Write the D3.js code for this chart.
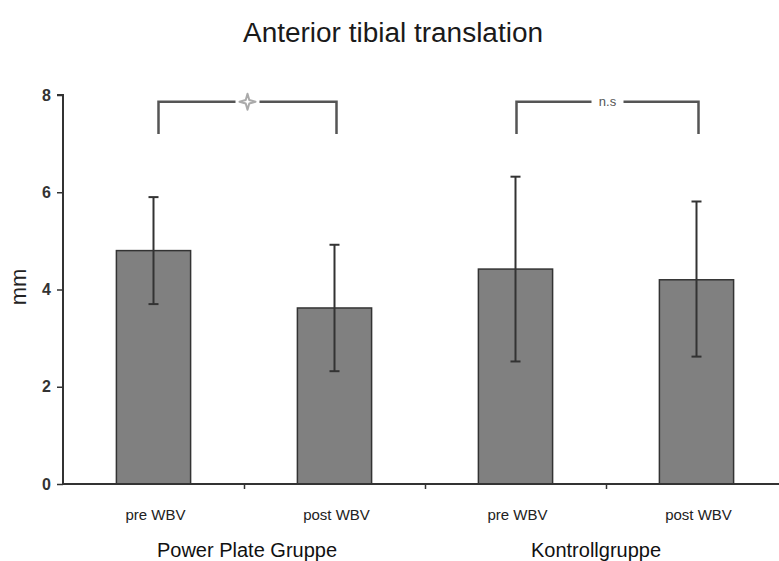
<!DOCTYPE html>
<html>
<head>
<meta charset="utf-8">
<script src="https://cdn.jsdelivr.net/npm/d3@7"></script>
<style>
  html, body { margin: 0; padding: 0; background: #ffffff; }
  svg { display: block; }
  text { font-family: "Liberation Sans", Arial, sans-serif; }
</style>
</head>
<body>
<div id="chart"></div>
<script>
// ---- data ----
const categories = ["pre WBV", "post WBV", "pre WBV", "post WBV"];
const means = [4.8, 3.62, 4.42, 4.2];
const errLow = [3.7, 2.32, 2.52, 2.62];
const errHigh = [5.9, 4.92, 6.32, 5.81];
const groups = ["Power Plate Gruppe", "Kontrollgruppe"];
const groupMembers = [[0, 1], [2, 3]];
const brackets = [
  { from: 0, to: 1, label: "" },
  { from: 2, to: 3, label: "n.s" }
];
const bracketTop = 7.86;
const bracketLeg = 7.2;
const yTicks = [0, 2, 4, 6, 8];
const title = "Anterior tibial translation";
const yLabel = "mm";

// ---- layout ----
const W = 779, H = 561;
const x0 = 63, x1 = 787, yBottom = 484, yTop = 95;

const svg = d3.select("#chart").append("svg")
  .attr("width", W).attr("height", H);

const x = d3.scaleBand()
  .domain(d3.range(categories.length))
  .range([x0, x1])
  .paddingInner(0.59)
  .paddingOuter(0.295);

const xEdge = d3.scaleLinear().domain([0, categories.length]).range([x0, x1]);

const y = d3.scaleLinear().domain([0, 8]).range([yBottom, yTop]);

const dark = "#333333";

// title
svg.append("text")
  .attr("x", 393).attr("y", 42)
  .attr("text-anchor", "middle")
  .attr("font-size", 27)
  .attr("fill", "#1a1a1a")
  .attr("textLength", 300)
  .attr("lengthAdjust", "spacingAndGlyphs")
  .text(title);

// bars
svg.append("g").selectAll("rect")
  .data(means)
  .join("rect")
  .attr("x", (d, i) => x(i))
  .attr("y", d => y(d))
  .attr("width", x.bandwidth())
  .attr("height", d => y(0) - y(d))
  .attr("fill", "#808080")
  .attr("stroke", dark)
  .attr("stroke-width", 1.5);

// error bars
const eb = svg.append("g").attr("stroke", dark).attr("stroke-width", 2);
means.forEach((m, i) => {
  const cx = x(i) + x.bandwidth() / 2;
  eb.append("line").attr("x1", cx).attr("x2", cx).attr("y1", y(errLow[i])).attr("y2", y(errHigh[i]));
  eb.append("line").attr("x1", cx - 5).attr("x2", cx + 5).attr("y1", y(errLow[i])).attr("y2", y(errLow[i]));
  eb.append("line").attr("x1", cx - 5).attr("x2", cx + 5).attr("y1", y(errHigh[i])).attr("y2", y(errHigh[i]));
});

// y axis
const yAxis = svg.append("g")
  .attr("transform", `translate(${x0},0)`)
  .call(d3.axisLeft(y).tickValues(yTicks).tickSize(6).tickPadding(6).tickFormat(d3.format("d")));
yAxis.select(".domain").attr("stroke", dark).attr("stroke-width", 2).attr("d", `M-6,${y(8)}H0V${y(0)}`);
yAxis.selectAll(".tick line").attr("stroke", dark).attr("stroke-width", 1.5);
yAxis.selectAll(".tick text")
  .attr("font-size", 16).attr("font-weight", "bold").attr("fill", "#333")
  .attr("font-family", "Liberation Sans, Arial, sans-serif");

// x axis
const xAxis = svg.append("g")
  .attr("transform", `translate(0,${yBottom})`)
  .call(d3.axisBottom(xEdge).tickValues([1, 2, 3]).tickSize(5).tickFormat(""));
xAxis.select(".domain").attr("stroke", dark).attr("stroke-width", 2).attr("d", `M${x0},0H${W}`);
xAxis.selectAll(".tick line").attr("stroke", dark).attr("stroke-width", 1.5);

// category labels
svg.append("g").selectAll("text")
  .data(categories)
  .join("text")
  .attr("x", (d, i) => x(i) + x.bandwidth() / 2 + 2)
  .attr("y", 520)
  .attr("text-anchor", "middle")
  .attr("font-size", 15)
  .attr("fill", "#222")
  .text(d => d);

// group labels
svg.append("g").selectAll("text")
  .data(groups)
  .join("text")
  .attr("x", (d, i) => {
    const m = groupMembers[i];
    return (x(m[0]) + x(m[m.length - 1]) + x.bandwidth()) / 2 + (i === 0 ? 3 : -10);
  })
  .attr("y", 557)
  .attr("text-anchor", "middle")
  .attr("font-size", 20)
  .attr("fill", "#111")
  .text(d => d);

// y label
svg.append("text")
  .attr("transform", `translate(26,287) rotate(-90)`)
  .attr("text-anchor", "middle")
  .attr("font-size", 22)
  .attr("fill", "#222")
  .text(yLabel);

// significance brackets
const bg = svg.append("g");
brackets.forEach(b => {
  const xa = x(b.from) + x.bandwidth() / 2 + (b.from === 0 ? 5 : 1);
  const xb = x(b.to) + x.bandwidth() / 2 + 2;
  const mid = (xa + xb) / 2;
  const gap = b.label === "n.s" ? 16 : 12;
  const yt = y(bracketTop), yl = y(bracketLeg);
  bg.append("path")
    .attr("d", `M${xa},${yl}V${yt}H${mid - gap}`)
    .attr("fill", "none").attr("stroke", "#555").attr("stroke-width", 2.5);
  bg.append("path")
    .attr("d", `M${mid + gap},${yt}H${xb}V${yl}`)
    .attr("fill", "none").attr("stroke", "#555").attr("stroke-width", 2.5);
  if (b.label) {
    bg.append("text")
      .attr("x", mid).attr("y", yt + 4.5)
      .attr("text-anchor", "middle")
      .attr("font-size", 13)
      .attr("fill", "#555")
      .text(b.label);
  } else {
    // four-pointed star outline marker
    const r = 8, ri = 2.5;
    const p = d3.path();
    for (let k = 0; k < 8; k++) {
      const a = k * Math.PI / 4 - Math.PI / 2;
      const rr = k % 2 === 0 ? r : ri;
      const px = mid + rr * Math.cos(a), py = yt + rr * Math.sin(a);
      if (k === 0) p.moveTo(px, py); else p.lineTo(px, py);
    }
    p.closePath();
    bg.append("path").attr("d", p.toString())
      .attr("fill", "none").attr("stroke", "#aaa").attr("stroke-width", 2)
      .attr("stroke-linejoin", "round");
  }
});
</script>
</body>
</html>
